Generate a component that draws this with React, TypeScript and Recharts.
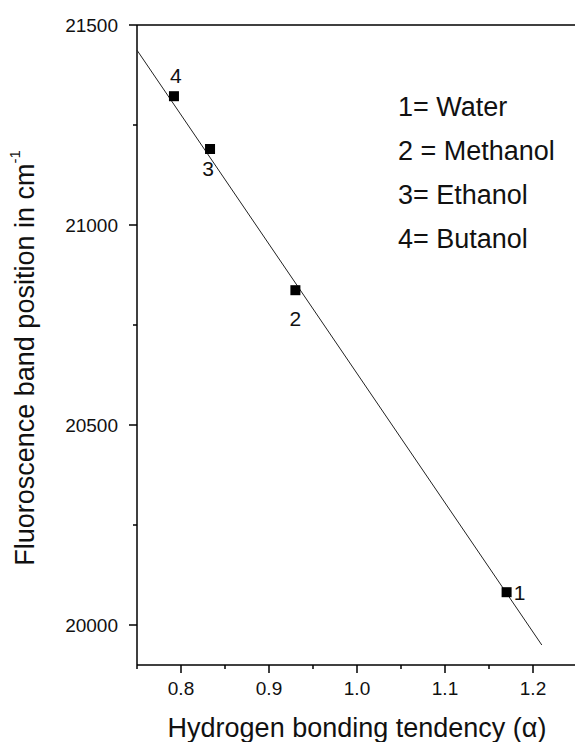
import { ScatterChart, Scatter, XAxis, YAxis, ReferenceLine, Label } from "recharts";

// solvents: numeric id, H-bond donor ability (alpha), fluorescence band (cm-1)
const SOLVENT_IDS = ["1", "2", "3", "4"];
const ALPHA = [1.17, 0.93, 0.833, 0.792];
const BAND_POSITION = [20082, 20837, 21190, 21322];

// linear fit end points
const FIT_ALPHA = [0.75, 1.21];
const FIT_BAND = [21437, 19950];

const LEGEND_LINES = ["1= Water", "2 = Methanol", "3= Ethanol", "4= Butanol"];

const X_TICKS = [0.75, 0.8, 0.85, 0.9, 0.95, 1.0, 1.05, 1.1, 1.15, 1.2, 1.25];
const Y_TICKS = [20000, 20250, 20500, 20750, 21000, 21250, 21500];

const FONT = "'Liberation Sans', Arial, sans-serif";

const points = ALPHA.map((a, i) => ({ x: a, y: BAND_POSITION[i], id: SOLVENT_IDS[i] }));
const fit = FIT_ALPHA.map((a, i) => ({ x: a, y: FIT_BAND[i] }));

// where each point's number sits relative to its marker
const LABEL_OFFSET: Record<string, [number, number]> = {
  "1": [13, 0],
  "2": [0, 28],
  "3": [-2, 19],
  "4": [2, -21],
};

const isMajorX = (v: number) => Math.abs(v * 10 - Math.round(v * 10)) < 1e-6;

const XTick = (props: any) => {
  const { x, y, payload } = props;
  const v = payload.value as number;
  const major = isMajorX(v);
  return (
    <g>
      <line x1={x} y1={y} x2={x} y2={y + (major ? 8 : 4)} stroke="#000" strokeWidth={1.5} />
      {major && (
        <text x={x} y={y + 23} dy="0.36em" textAnchor="middle" fontSize={19} fontFamily={FONT} fill="#111">
          {v.toFixed(1)}
        </text>
      )}
    </g>
  );
};

const YTick = (props: any) => {
  const { x, y, payload } = props;
  const v = payload.value as number;
  const major = v % 500 === 0;
  return (
    <g>
      <line x1={x} y1={y} x2={x - (major ? 8 : 4)} y2={y} stroke="#000" strokeWidth={1.5} />
      {major && (
        <text x={x - 19} y={y} dy="0.36em" textAnchor="end" fontSize={19} fontFamily={FONT} fill="#111">
          {v}
        </text>
      )}
    </g>
  );
};

const PointShape = (props: any) => {
  const { cx, cy, payload } = props;
  const [dx, dy] = LABEL_OFFSET[payload.id] || [0, 0];
  return (
    <g>
      <rect x={cx - 5} y={cy - 5} width={10} height={10} fill="#000" />
      <text x={cx + dx} y={cy + dy} dy="0.36em" textAnchor="middle" fontSize={21} fontFamily={FONT} fill="#111">
        {payload.id}
      </text>
    </g>
  );
};

const YTitle = () => (
  <text
    x={25}
    y={358}
    transform="rotate(-90 25 358)"
    textAnchor="middle"
    dominantBaseline="central"
    fontSize={27}
    fontFamily={FONT}
    fill="#111"
  >
    Fluoroscence band position in cm
    <tspan dy={-11} fontSize={15}>-1</tspan>
  </text>
);

const XTitle = () => (
  <text x={357} y={728} textAnchor="middle" dominantBaseline="central" fontSize={27} fontFamily={FONT} fill="#111">
    Hydrogen bonding tendency (α)
  </text>
);

export default function App() {
  return (
    <div
      style={{
        position: "absolute",
        left: 0,
        top: 0,
        width: 575,
        height: 742,
        overflow: "hidden",
        background: "#fff",
      }}
    >
      <ScatterChart width={580} height={742} margin={{ top: 25, right: 3, bottom: 0, left: 0 }}>
        <XAxis
          type="number"
          dataKey="x"
          domain={[0.75, 1.25]}
          ticks={X_TICKS}
          interval={0}
          height={77}
          tickSize={0}
          tickMargin={0}
          tickLine={false}
          tick={<XTick />}
          axisLine={{ stroke: "#000", strokeWidth: 1.5 }}
        >
          <Label content={<XTitle />} />
        </XAxis>
        <YAxis
          type="number"
          dataKey="y"
          domain={[19900, 21500]}
          ticks={Y_TICKS}
          interval={0}
          width={137}
          tickSize={0}
          tickMargin={0}
          tickLine={false}
          tick={<YTick />}
          axisLine={{ stroke: "#000", strokeWidth: 1.5 }}
        >
          <Label content={<YTitle />} />
        </YAxis>
        <ReferenceLine y={21500} stroke="#000" strokeWidth={1.5} />
        <Scatter
          data={fit}
          line={{ stroke: "#222", strokeWidth: 1 }}
          shape={() => <g />}
          isAnimationActive={false}
        />
        <Scatter data={points} shape={<PointShape />} isAnimationActive={false} />
      </ScatterChart>
      <div
        style={{
          position: "absolute",
          left: 398,
          top: 85,
          fontFamily: FONT,
          fontSize: 27,
          lineHeight: "44px",
          color: "#111",
          whiteSpace: "nowrap",
        }}
      >
        {LEGEND_LINES.map((t) => (
          <div key={t}>{t}</div>
        ))}
      </div>
    </div>
  );
}
